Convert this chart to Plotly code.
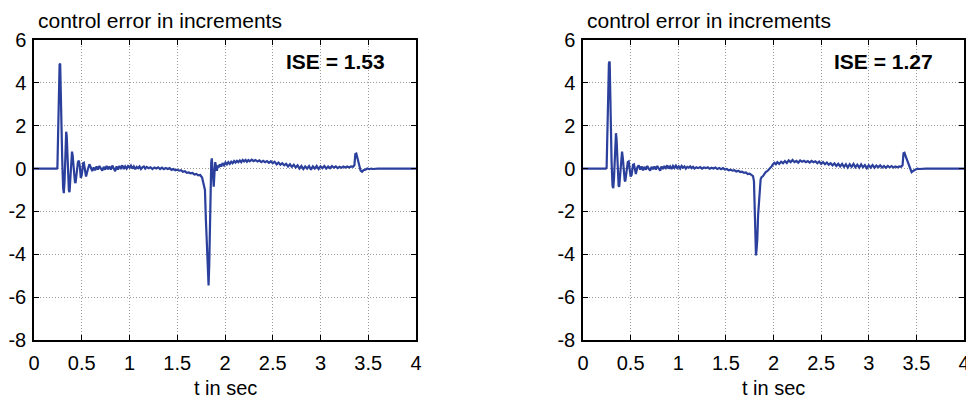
import plotly.graph_objects as go

# ---- data: left plot (ISE = 1.53) ----
t_left = [0, 0.24, 0.245, 0.255, 0.262, 0.268, 0.274, 0.28, 0.286, 0.295, 0.305, 0.312, 0.32, 0.33, 0.337, 0.343,
          0.355, 0.365, 0.372, 0.38, 0.39, 0.398, 0.405, 0.415, 0.428, 0.435, 0.445, 0.46, 0.47, 0.48, 0.49, 0.5,
          0.515, 0.522, 0.535, 0.545, 0.56, 0.58, 0.595, 0.61, 0.625, 0.64, 0.655, 0.67, 0.685, 0.7, 0.715, 0.73,
          0.745, 0.76, 0.775, 0.79, 0.805, 0.82, 0.835, 0.85, 0.865, 0.88, 0.895, 0.91, 0.925, 0.94, 0.955, 0.97,
          0.985, 1.0, 1.015, 1.03, 1.045, 1.06, 1.075, 1.09, 1.105, 1.12, 1.135, 1.15, 1.165, 1.18, 1.2, 1.22,
          1.24, 1.26, 1.28, 1.3, 1.32, 1.34, 1.36, 1.38, 1.4, 1.42, 1.44, 1.46, 1.48, 1.5, 1.52, 1.54, 1.56, 1.58,
          1.6, 1.62, 1.64, 1.66, 1.68, 1.7, 1.72, 1.74, 1.76, 1.775, 1.79, 1.8, 1.81, 1.82, 1.828, 1.835, 1.842,
          1.85, 1.856, 1.862, 1.868, 1.874, 1.882, 1.89, 1.898, 1.906, 1.915, 1.925, 1.935, 1.945, 1.96, 1.975,
          1.99, 2.005, 2.02, 2.035, 2.05, 2.065, 2.08, 2.095, 2.11, 2.125, 2.14, 2.155, 2.17, 2.185, 2.2, 2.215,
          2.23, 2.245, 2.26, 2.28, 2.3, 2.32, 2.34, 2.36, 2.38, 2.4, 2.42, 2.44, 2.46, 2.48, 2.5, 2.52, 2.54, 2.56,
          2.58, 2.6, 2.62, 2.64, 2.66, 2.68, 2.7, 2.72, 2.74, 2.76, 2.78, 2.8, 2.82, 2.84, 2.86, 2.88, 2.9, 2.92,
          2.94, 2.96, 2.98, 3.0, 3.02, 3.04, 3.06, 3.08, 3.1, 3.12, 3.14, 3.16, 3.18, 3.2, 3.22, 3.24, 3.26, 3.28,
          3.3, 3.32, 3.34, 3.355, 3.365, 3.375, 3.39, 3.405, 3.42, 3.435, 3.45, 3.47, 3.49, 3.51, 3.53, 3.55, 3.6, 4.0]
e_left = [0, 0, 0.05, 2.4, 2.6, 4.85, 4.9, 3.0, 2.9, 0.5, -0.9, -1.15, -0.6, 1.5, 1.72, 1.5,
          0.0, -1.0, -1.1, -0.6, 0.5, 0.79, 0.6, 0.0, -0.6, -0.68, -0.3, 0.3, 0.37, 0.1, -0.44, -0.3,
          0.25, 0.27, -0.1, -0.37, -0.1, 0.2, 0.05, -0.12, 0.05, -0.08, 0.1, -0.05, 0.12, 0.0, -0.1, 0.08,
          -0.05, 0.12, -0.03, 0.1, -0.05, 0.14, 0.0, -0.12, 0.1, -0.05, 0.12, 0.02, 0.15, -0.02, 0.1, 0.0,
          0.12, 0.05, 0.14, 0.0, 0.1, -0.03, 0.08, 0.02, 0.1, -0.02, 0.06, 0.1, 0.0, 0.08, 0.02, 0.06,
          -0.02, 0.05, 0.0, 0.06, -0.02, 0.04, -0.03, 0.03, -0.02, 0.02, -0.06, -0.02, -0.08, -0.05, -0.1, -0.08, -0.15, -0.12,
          -0.2, -0.18, -0.22, -0.2, -0.28, -0.25, -0.32, -0.3, -0.42, -0.75, -1.0, -2.4, -3.8, -4.9, -5.45, -4.5, -2.5,
          -0.8, 0.3, 0.48, 0.1, -0.5, -0.85, -0.2, 0.3, 0.1, -0.1, 0.15, 0.05, 0.2, 0.1, 0.25,
          0.15, 0.28, 0.2, 0.3, 0.22, 0.32, 0.25, 0.35, 0.28, 0.36, 0.3, 0.38, 0.3, 0.4, 0.33, 0.4,
          0.32, 0.4, 0.34, 0.42, 0.35, 0.4, 0.33, 0.38, 0.3, 0.36, 0.3, 0.35, 0.27, 0.34, 0.25, 0.32, 0.2, 0.28,
          0.18, 0.25, 0.15, 0.22, 0.1, 0.2, 0.08, 0.18, 0.05, 0.15, 0.0, 0.12, -0.02, 0.1, 0.0, 0.12, -0.05, 0.1,
          0.0, 0.12, -0.02, 0.1, 0.02, 0.12, 0.0, 0.1, 0.02, 0.12, 0.04, 0.1, 0.02, 0.08, 0.04, 0.1, 0.05, 0.1,
          0.05, 0.1, 0.08, 0.15, 0.68, 0.7, 0.45, 0.15, -0.1, -0.15, -0.08, -0.05, 0.0, -0.03, 0.0, -0.02, 0.0, 0.0]

# ---- data: right plot (ISE = 1.27) ----
t_right = [0, 0.24, 0.248, 0.256, 0.264, 0.272, 0.28, 0.286, 0.292, 0.3, 0.31, 0.318, 0.326, 0.338, 0.346, 0.352,
           0.362, 0.374, 0.38, 0.388, 0.4, 0.41, 0.418, 0.428, 0.438, 0.444, 0.455, 0.47, 0.48, 0.49, 0.5, 0.51,
           0.525, 0.535, 0.545, 0.555, 0.57, 0.585, 0.6, 0.615, 0.63, 0.645, 0.66, 0.675, 0.69, 0.705, 0.72, 0.735,
           0.75, 0.765, 0.78, 0.795, 0.81, 0.825, 0.84, 0.855, 0.87, 0.885, 0.9, 0.915, 0.93, 0.945, 0.96, 0.975,
           0.99, 1.005, 1.02, 1.035, 1.05, 1.065, 1.08, 1.095, 1.11, 1.125, 1.14, 1.155, 1.17, 1.19, 1.21, 1.23,
           1.25, 1.27, 1.29, 1.31, 1.33, 1.35, 1.37, 1.39, 1.41, 1.43, 1.45, 1.47, 1.49, 1.51, 1.53, 1.55, 1.57,
           1.59, 1.61, 1.63, 1.65, 1.67, 1.69, 1.71, 1.73, 1.75, 1.77, 1.785, 1.795, 1.803, 1.81, 1.816, 1.822,
           1.83, 1.838, 1.846, 1.855, 1.865, 1.875, 1.89, 1.905, 1.92, 1.935, 1.95, 1.965, 1.98, 1.995, 2.01,
           2.025, 2.04, 2.06, 2.08, 2.1, 2.12, 2.14, 2.16, 2.18, 2.2, 2.22, 2.24, 2.26, 2.28, 2.3, 2.32, 2.34,
           2.36, 2.38, 2.4, 2.42, 2.44, 2.46, 2.48, 2.5, 2.52, 2.54, 2.56, 2.58, 2.6, 2.62, 2.64, 2.66, 2.68,
           2.7, 2.72, 2.74, 2.76, 2.78, 2.8, 2.82, 2.84, 2.86, 2.88, 2.9, 2.92, 2.94, 2.96, 2.98, 3.0, 3.02,
           3.04, 3.06, 3.08, 3.1, 3.12, 3.14, 3.16, 3.18, 3.2, 3.22, 3.24, 3.26, 3.28, 3.3, 3.32, 3.34, 3.355,
           3.365, 3.375, 3.39, 3.41, 3.43, 3.45, 3.47, 3.49, 3.51, 3.53, 3.56, 3.6, 3.7, 3.8, 4.0]
e_right = [0, 0, 0.05, 2.4, 2.7, 4.9, 5.0, 3.2, 2.8, 0.3, -0.8, -0.92, -0.4, 1.4, 1.65, 1.4,
           0.0, -0.8, -0.85, -0.4, 0.6, 0.79, 0.5, -0.2, -0.55, -0.6, -0.2, 0.3, 0.33, 0.0, -0.37, -0.3,
           0.18, 0.2, -0.1, -0.25, 0.05, 0.15, -0.05, 0.1, -0.08, 0.08, -0.05, 0.12, 0.0, -0.1, 0.08, -0.03,
           0.1, -0.05, 0.12, 0.0, -0.1, 0.1, -0.02, 0.12, 0.02, 0.15, 0.0, 0.1, -0.02, 0.12, 0.03, 0.14,
           0.02, 0.1, 0.0, 0.12, 0.04, 0.1, 0.0, 0.08, 0.04, 0.1, 0.02, 0.08, 0.0, 0.06, 0.02, 0.07,
           0.0, 0.05, 0.02, 0.06, -0.01, 0.04, 0.0, 0.05, -0.02, 0.03, -0.03, 0.02, -0.05, -0.02, -0.08, -0.05, -0.1,
           -0.08, -0.14, -0.1, -0.16, -0.14, -0.2, -0.18, -0.26, -0.24, -0.3, -0.35, -0.6, -2.0, -3.6, -4.05, -3.8,
           -3.3, -2.2, -1.5, -0.9, -0.5, -0.4, -0.35, -0.25, -0.15, -0.12, -0.05, 0.0, 0.1, 0.2, 0.27,
           0.2, 0.3, 0.22, 0.32, 0.25, 0.35, 0.26, 0.38, 0.3, 0.4, 0.3, 0.36, 0.28, 0.38, 0.32, 0.36, 0.3,
           0.35, 0.28, 0.36, 0.3, 0.34, 0.25, 0.33, 0.22, 0.3, 0.2, 0.28, 0.18, 0.25, 0.15, 0.24, 0.12, 0.22,
           0.1, 0.22, 0.08, 0.2, 0.05, 0.2, 0.08, 0.22, 0.06, 0.18, 0.04, 0.2, 0.06, 0.16, 0.02, 0.15, 0.05,
           0.16, 0.04, 0.14, 0.06, 0.15, 0.05, 0.12, 0.04, 0.12, 0.06, 0.12, 0.05, 0.1, 0.06, 0.1, 0.08, 0.15,
           0.72, 0.74, 0.55, 0.3, 0.05, -0.17, -0.1, -0.03, 0.0, -0.02, 0.0, 0.0, 0.0, 0.0, 0.0]

x_ticks = [0, 0.5, 1, 1.5, 2, 2.5, 3, 3.5, 4]
x_tick_text = ["0", "0.5", "1", "1.5", "2", "2.5", "3", "3.5", "4"]
y_ticks = [-8, -6, -4, -2, 0, 2, 4, 6]
y_tick_text = ["-8", "-6", "-4", "-2", "0", "2", "4", "6"]
titles = ["control error in increments", "control error in increments"]
ise_labels = ["ISE = 1.53", "ISE = 1.27"]
x_label = "t in sec"

# page is 974x400; the html body adds an 8px margin, so the figure itself is 8px smaller
OFF = 8
W, H = 974 - OFF, 400 - OFF
line_color = "#2b3f9c"
font_family = "Liberation Sans, Arial, sans-serif"


def px(page_x):
    return (page_x - OFF) / W


def py(page_y):
    return 1 - (page_y - OFF) / H


fig = go.Figure()
fig.add_trace(go.Scatter(x=t_left, y=e_left, mode="lines", line=dict(color=line_color, width=2.2),
                         xaxis="x", yaxis="y", showlegend=False))
fig.add_trace(go.Scatter(x=t_right, y=e_right, mode="lines", line=dict(color=line_color, width=2.2),
                         xaxis="x2", yaxis="y2", showlegend=False))

domains_x = [[px(34), px(416)], [px(583), px(964)]]
domain_y = [py(340), py(40)]

common_axis = dict(showline=True, linecolor="black", linewidth=1.5, mirror="ticks",
                   ticks="inside", ticklen=5, tickcolor="black", tickwidth=1,
                   showgrid=True, gridcolor="#9a9a9a", griddash="1px,2px", gridwidth=1,
                   zeroline=False, automargin=False,
                   tickfont=dict(family=font_family, size=20, color="black"))

layout = dict(width=W, height=H, margin=dict(l=0, r=0, t=0, b=0),
              plot_bgcolor="white", paper_bgcolor="white", showlegend=False)
for i, (xa, ya) in enumerate([("xaxis", "yaxis"), ("xaxis2", "yaxis2")]):
    suffix = "" if i == 0 else "2"
    layout[xa] = dict(common_axis, domain=domains_x[i], range=[0, 4], tickvals=x_ticks, ticktext=x_tick_text,
                      anchor="y" + suffix, ticklabelstandoff=4)
    layout[ya] = dict(common_axis, domain=domain_y, range=[-8, 6], tickvals=y_ticks, ticktext=y_tick_text,
                      anchor="x" + suffix, ticklabelstandoff=2)
fig.update_layout(**layout)

page_x0 = [34, 583]
page_x1 = [416, 964]
annotations = []
for i in range(2):
    annotations.append(dict(text=titles[i], xref="paper", yref="paper", x=px(page_x0[i] + 2), y=py(20),
                            xanchor="left", yanchor="middle", showarrow=False,
                            font=dict(family=font_family, size=21, color="black")))
    annotations.append(dict(text="<b>" + ise_labels[i] + "</b>", xref="paper", yref="paper",
                            x=px(page_x1[i] - 29), y=py(62), xanchor="right", yanchor="middle", showarrow=False,
                            font=dict(family=font_family, size=21, color="black")))
    annotations.append(dict(text=x_label, xref="paper", yref="paper", x=px((page_x0[i] + page_x1[i]) / 2),
                            y=py(388), xanchor="center", yanchor="middle", showarrow=False,
                            font=dict(family=font_family, size=20, color="black")))
fig.update_layout(annotations=annotations)

fig.write_html("out.html")
